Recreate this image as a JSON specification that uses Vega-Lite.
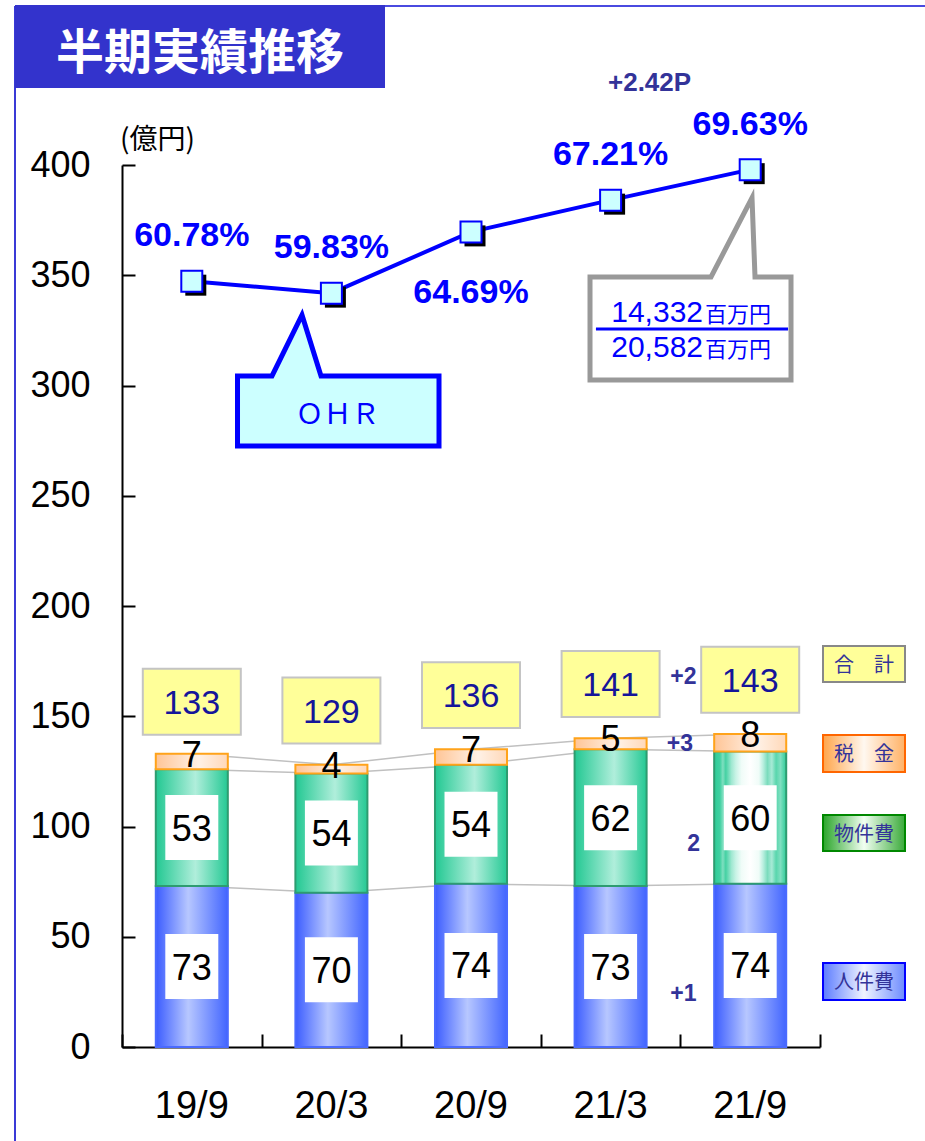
{
  "$schema": "https://vega.github.io/schema/vega-lite/v6.json",
  "width": 698,
  "height": 882,
  "autosize": {"type": "none"},
  "padding": {"left": 122, "top": 165, "right": 105, "bottom": 94},
  "background": "#ffffff",
  "config": {"view": {"stroke": null}, "font": "Liberation Sans"},
  "datasets": {
    "costs": [
      {"period": "19/9", "cat": "人件費", "value": 73},
      {"period": "19/9", "cat": "物件費", "value": 53},
      {"period": "19/9", "cat": "税金", "value": 7},
      {"period": "20/3", "cat": "人件費", "value": 70},
      {"period": "20/3", "cat": "物件費", "value": 54},
      {"period": "20/3", "cat": "税金", "value": 4},
      {"period": "20/9", "cat": "人件費", "value": 74},
      {"period": "20/9", "cat": "物件費", "value": 54},
      {"period": "20/9", "cat": "税金", "value": 7},
      {"period": "21/3", "cat": "人件費", "value": 73},
      {"period": "21/3", "cat": "物件費", "value": 62},
      {"period": "21/3", "cat": "税金", "value": 5},
      {"period": "21/9", "cat": "人件費", "value": 74},
      {"period": "21/9", "cat": "物件費", "value": 60},
      {"period": "21/9", "cat": "税金", "value": 8}
    ],
    "summary": [
      {"period": "19/9", "total": 133, "ohr": 0.6078},
      {"period": "20/3", "total": 129, "ohr": 0.5983},
      {"period": "20/9", "total": 136, "ohr": 0.6469},
      {"period": "21/3", "total": 141, "ohr": 0.6721},
      {"period": "21/9", "total": 143, "ohr": 0.6963}
    ],
    "note": [{"note": "annotation"}]
  },
  "resolve": {"scale": {"x": "independent", "y": "independent"}, "axis": {"x": "independent", "y": "independent"}},
  "layer": [
    {
      "data": {"name": "note"},
      "layer": [
        {"mark": {"type": "rule", "color": "#3a3ad6", "strokeWidth": 2},
         "encoding": {
           "x": {"datum": -1.2665, "type": "quantitative", "scale": {"domain": [-0.5, 4.5], "nice": false, "zero": false}, "axis": {"orient": "bottom", "values": [-0.5, 0.5, 1.5, 2.5, 3.5, 4.5], "labels": false, "domain": false, "grid": false, "ticks": true, "tickSize": -13, "tickColor": "#000000", "tickWidth": 2, "title": null}},
           "y": {"datum": 472.1, "type": "quantitative", "scale": {"domain": [0, 400], "nice": false, "zero": false}, "axis": null},
           "y2": {"datum": -42.6}}},
        {"mark": {"type": "rule", "color": "#4a4ae0", "strokeWidth": 2},
         "encoding": {
           "x": {"datum": -1.2665, "type": "quantitative", "scale": {"domain": [-0.5, 4.5], "nice": false, "zero": false}, "axis": {"orient": "bottom", "values": [-0.5, 0.5, 1.5, 2.5, 3.5, 4.5], "labels": false, "domain": false, "grid": false, "ticks": true, "tickSize": -13, "tickColor": "#000000", "tickWidth": 2, "title": null}},
           "x2": {"datum": 5.26},
           "y": {"datum": 472.1, "type": "quantitative", "scale": {"domain": [0, 400], "nice": false, "zero": false}, "axis": null}}},
        {"mark": {"type": "rect", "color": "#3333cc"},
         "encoding": {
           "x": {"datum": -1.2665, "type": "quantitative", "scale": {"domain": [-0.5, 4.5], "nice": false, "zero": false}, "axis": {"orient": "bottom", "values": [-0.5, 0.5, 1.5, 2.5, 3.5, 4.5], "labels": false, "domain": false, "grid": false, "ticks": true, "tickSize": -13, "tickColor": "#000000", "tickWidth": 2, "title": null}},
           "x2": {"datum": 1.384},
           "y": {"datum": 472.6, "type": "quantitative", "scale": {"domain": [0, 400], "nice": false, "zero": false}, "axis": null},
           "y2": {"datum": 434.9}}},
        {"mark": {"type": "text", "text": "半期実績推移", "font": "Noto Sans CJK JP", "fontSize": 48, "fontWeight": "bold", "color": "#ffffff", "align": "center", "baseline": "middle"},
         "encoding": {
           "x": {"datum": 0.0587, "type": "quantitative", "scale": {"domain": [-0.5, 4.5], "nice": false, "zero": false}, "axis": {"orient": "bottom", "values": [-0.5, 0.5, 1.5, 2.5, 3.5, 4.5], "labels": false, "domain": false, "grid": false, "ticks": true, "tickSize": -13, "tickColor": "#000000", "tickWidth": 2, "title": null}},
           "y": {"datum": 450.1, "type": "quantitative", "scale": {"domain": [0, 400], "nice": false, "zero": false}, "axis": null}}},
        {"mark": {"type": "point", "shape": "M-1,-0.0447L-0.6576,-0.0447L-0.3598,-0.6501L-0.1712,-0.0447L1,-0.0447L1,0.6501L-1,0.6501Z", "size": 40602, "filled": true, "color": "#ccffff", "stroke": "#0000ff", "strokeWidth": 5, "opacity": 1, "strokeJoin": "miter"},
         "encoding": {
           "x": {"datum": 1.0491, "type": "quantitative", "scale": {"domain": [-0.5, 4.5], "nice": false, "zero": false}, "axis": {"orient": "bottom", "values": [-0.5, 0.5, 1.5, 2.5, 3.5, 4.5], "labels": false, "domain": false, "grid": false, "ticks": true, "tickSize": -13, "tickColor": "#000000", "tickWidth": 2, "title": null}},
           "y": {"datum": 302.3, "type": "quantitative", "scale": {"domain": [0, 400], "nice": false, "zero": false}, "axis": null}}},
        {"mark": {"type": "point", "shape": "M-1,-0.1194L0.204,-0.1194L0.6119,-0.9055L0.6418,-0.1194L1,-0.1194L1,0.9055L-1,0.9055Z", "size": 40401, "filled": true, "color": "#ffffff", "stroke": "#999999", "strokeWidth": 5, "opacity": 1, "strokeJoin": "miter"},
         "encoding": {
           "x": {"datum": 3.5724, "type": "quantitative", "scale": {"domain": [-0.5, 4.5], "nice": false, "zero": false}, "axis": {"orient": "bottom", "values": [-0.5, 0.5, 1.5, 2.5, 3.5, 4.5], "labels": false, "domain": false, "grid": false, "ticks": true, "tickSize": -13, "tickColor": "#000000", "tickWidth": 2, "title": null}},
           "y": {"datum": 343.8, "type": "quantitative", "scale": {"domain": [0, 400], "nice": false, "zero": false}, "axis": null}}},
        {"mark": {"type": "rect", "fill": "#ffff99", "stroke": "#888888", "strokeWidth": 2},
         "encoding": {
           "x": {"datum": 4.5215, "type": "quantitative", "scale": {"domain": [-0.5, 4.5], "nice": false, "zero": false}, "axis": {"orient": "bottom", "values": [-0.5, 0.5, 1.5, 2.5, 3.5, 4.5], "labels": false, "domain": false, "grid": false, "ticks": true, "tickSize": -13, "tickColor": "#000000", "tickWidth": 2, "title": null}},
           "x2": {"datum": 5.1089},
           "y": {"datum": 181.9, "type": "quantitative", "scale": {"domain": [0, 400], "nice": false, "zero": false}, "axis": null},
           "y2": {"datum": 165.5}}},
        {"mark": {"type": "rect", "fill": {"gradient": "linear", "x1": 0, "y1": 0, "x2": 1, "y2": 0, "stops": [{"offset": 0, "color": "#ffa54a"}, {"offset": 0.5, "color": "#fff8f0"}, {"offset": 1, "color": "#ffb266"}]}, "stroke": "#ff6600", "strokeWidth": 2},
         "encoding": {
           "x": {"datum": 4.5215, "type": "quantitative", "scale": {"domain": [-0.5, 4.5], "nice": false, "zero": false}, "axis": {"orient": "bottom", "values": [-0.5, 0.5, 1.5, 2.5, 3.5, 4.5], "labels": false, "domain": false, "grid": false, "ticks": true, "tickSize": -13, "tickColor": "#000000", "tickWidth": 2, "title": null}},
           "x2": {"datum": 5.1089},
           "y": {"datum": 141.5, "type": "quantitative", "scale": {"domain": [0, 400], "nice": false, "zero": false}, "axis": null},
           "y2": {"datum": 124.7}}},
        {"mark": {"type": "rect", "fill": {"gradient": "linear", "x1": 0, "y1": 0, "x2": 1, "y2": 0, "stops": [{"offset": 0, "color": "#2aa52a"}, {"offset": 0.5, "color": "#f2fff2"}, {"offset": 1, "color": "#3aaa3a"}]}, "stroke": "#008800", "strokeWidth": 2},
         "encoding": {
           "x": {"datum": 4.5215, "type": "quantitative", "scale": {"domain": [-0.5, 4.5], "nice": false, "zero": false}, "axis": {"orient": "bottom", "values": [-0.5, 0.5, 1.5, 2.5, 3.5, 4.5], "labels": false, "domain": false, "grid": false, "ticks": true, "tickSize": -13, "tickColor": "#000000", "tickWidth": 2, "title": null}},
           "x2": {"datum": 5.1089},
           "y": {"datum": 105.2, "type": "quantitative", "scale": {"domain": [0, 400], "nice": false, "zero": false}, "axis": null},
           "y2": {"datum": 88.9}}},
        {"mark": {"type": "rect", "fill": {"gradient": "linear", "x1": 0, "y1": 0, "x2": 1, "y2": 0, "stops": [{"offset": 0, "color": "#5c7cff"}, {"offset": 0.5, "color": "#f0f4ff"}, {"offset": 1, "color": "#6d8bff"}]}, "stroke": "#0000ff", "strokeWidth": 2},
         "encoding": {
           "x": {"datum": 4.5215, "type": "quantitative", "scale": {"domain": [-0.5, 4.5], "nice": false, "zero": false}, "axis": {"orient": "bottom", "values": [-0.5, 0.5, 1.5, 2.5, 3.5, 4.5], "labels": false, "domain": false, "grid": false, "ticks": true, "tickSize": -13, "tickColor": "#000000", "tickWidth": 2, "title": null}},
           "x2": {"datum": 5.1089},
           "y": {"datum": 38.1, "type": "quantitative", "scale": {"domain": [0, 400], "nice": false, "zero": false}, "axis": null},
           "y2": {"datum": 21.3}}},
        {"mark": {"type": "text", "text": "合　計", "font": "Noto Sans CJK JP", "fontSize": 20, "color": "#333399", "align": "center", "baseline": "middle"},
         "encoding": {
           "x": {"datum": 4.815, "type": "quantitative", "scale": {"domain": [-0.5, 4.5], "nice": false, "zero": false}, "axis": {"orient": "bottom", "values": [-0.5, 0.5, 1.5, 2.5, 3.5, 4.5], "labels": false, "domain": false, "grid": false, "ticks": true, "tickSize": -13, "tickColor": "#000000", "tickWidth": 2, "title": null}},
           "y": {"datum": 173.0, "type": "quantitative", "scale": {"domain": [0, 400], "nice": false, "zero": false}, "axis": null}}},
        {"mark": {"type": "text", "text": "税　金", "font": "Noto Sans CJK JP", "fontSize": 20, "color": "#333399", "align": "center", "baseline": "middle"},
         "encoding": {
           "x": {"datum": 4.815, "type": "quantitative", "scale": {"domain": [-0.5, 4.5], "nice": false, "zero": false}, "axis": {"orient": "bottom", "values": [-0.5, 0.5, 1.5, 2.5, 3.5, 4.5], "labels": false, "domain": false, "grid": false, "ticks": true, "tickSize": -13, "tickColor": "#000000", "tickWidth": 2, "title": null}},
           "y": {"datum": 132.4, "type": "quantitative", "scale": {"domain": [0, 400], "nice": false, "zero": false}, "axis": null}}},
        {"mark": {"type": "text", "text": "物件費", "font": "Noto Sans CJK JP", "fontSize": 20, "color": "#333399", "align": "center", "baseline": "middle"},
         "encoding": {
           "x": {"datum": 4.815, "type": "quantitative", "scale": {"domain": [-0.5, 4.5], "nice": false, "zero": false}, "axis": {"orient": "bottom", "values": [-0.5, 0.5, 1.5, 2.5, 3.5, 4.5], "labels": false, "domain": false, "grid": false, "ticks": true, "tickSize": -13, "tickColor": "#000000", "tickWidth": 2, "title": null}},
           "y": {"datum": 96.3, "type": "quantitative", "scale": {"domain": [0, 400], "nice": false, "zero": false}, "axis": null}}},
        {"mark": {"type": "text", "text": "人件費", "font": "Noto Sans CJK JP", "fontSize": 20, "color": "#333399", "align": "center", "baseline": "middle"},
         "encoding": {
           "x": {"datum": 4.815, "type": "quantitative", "scale": {"domain": [-0.5, 4.5], "nice": false, "zero": false}, "axis": {"orient": "bottom", "values": [-0.5, 0.5, 1.5, 2.5, 3.5, 4.5], "labels": false, "domain": false, "grid": false, "ticks": true, "tickSize": -13, "tickColor": "#000000", "tickWidth": 2, "title": null}},
           "y": {"datum": 29.0, "type": "quantitative", "scale": {"domain": [0, 400], "nice": false, "zero": false}, "axis": null}}}
      ]
    },
    {
      "data": {"name": "costs"},
      "encoding": {
        "x": {"field": "period", "type": "nominal", "title": null, "scale": {"paddingInner": 0.484, "paddingOuter": 0.242}, "axis": {"orient": "bottom", "labelFont": "Liberation Sans", "labelFontSize": 38, "labelColor": "#000000", "labelAngle": 0, "labelPadding": 40, "labelBaseline": "top", "ticks": false, "domainColor": "#000000", "domainWidth": 2, "grid": false}}
      },
      "layer": [
        {"transform": [{"stack": "value", "groupby": ["period"], "sort": [{"field": "cat", "order": "ascending"}], "as": ["s0", "s1"]}],
         "mark": {"type": "line", "color": "#c0c0c0", "strokeWidth": 1.5},
         "encoding": {
           "y": {"field": "s1", "type": "quantitative", "title": "(億円)", "scale": {"domain": [0, 400], "nice": false}, "axis": {"orient": "left", "values": [0, 50, 100, 150, 200, 250, 300, 350, 400], "labelFont": "Liberation Sans", "labelFontSize": 36, "labelColor": "#000000", "labelPadding": 45, "tickSize": -13, "tickColor": "#000000", "tickWidth": 2, "domainColor": "#000000", "domainWidth": 2, "grid": false, "titleAngle": 0, "titleX": 35, "titleY": -25, "titleAlign": "center", "titleBaseline": "middle", "titleFont": "Noto Sans CJK JP", "titleFontSize": 28, "titleFontWeight": "normal", "titleColor": "#000000"}},
           "detail": {"field": "cat", "type": "nominal"}}},
        {"mark": {"type": "bar", "strokeWidth": 2},
         "encoding": {
           "y": {"field": "value", "type": "quantitative", "stack": "zero", "title": "(億円)", "scale": {"domain": [0, 400], "nice": false}, "axis": {"orient": "left", "values": [0, 50, 100, 150, 200, 250, 300, 350, 400], "labelFont": "Liberation Sans", "labelFontSize": 36, "labelColor": "#000000", "labelPadding": 45, "tickSize": -13, "tickColor": "#000000", "tickWidth": 2, "domainColor": "#000000", "domainWidth": 2, "grid": false, "titleAngle": 0, "titleX": 35, "titleY": -25, "titleAlign": "center", "titleBaseline": "middle", "titleFont": "Noto Sans CJK JP", "titleFontSize": 28, "titleFontWeight": "normal", "titleColor": "#000000"}},
           "order": {"field": "cat", "sort": "ascending"},
           "detail": {"field": "cat", "type": "nominal"},
           "fill": {
             "condition": [
               {"test": "datum.cat === '物件費' && datum.period === '21/9'", "value": {"gradient": "linear", "x1": 0, "y1": 0, "x2": 1, "y2": 0, "stops": [{"offset": 0, "color": "#2dcc98"}, {"offset": 0.08, "color": "#3fd0a0"}, {"offset": 0.12, "color": "#7fdfc0"}, {"offset": 0.16, "color": "#45d1a3"}, {"offset": 0.24, "color": "#9fe8d1"}, {"offset": 0.3, "color": "#c8f3e6"}, {"offset": 0.38, "color": "#f0fcf8"}, {"offset": 0.5, "color": "#ffffff"}, {"offset": 0.62, "color": "#f0fcf8"}, {"offset": 0.68, "color": "#b9efdf"}, {"offset": 0.74, "color": "#7bdcbd"}, {"offset": 0.8, "color": "#a7ead6"}, {"offset": 0.86, "color": "#59d6ad"}, {"offset": 0.92, "color": "#7fdfc0"}, {"offset": 1, "color": "#2dcc98"}]}},
               {"test": "datum.cat === '物件費'", "value": {"gradient": "linear", "x1": 0, "y1": 0, "x2": 1, "y2": 0, "stops": [{"offset": 0, "color": "#22c892"}, {"offset": 0.55, "color": "#b0eedb"}, {"offset": 1, "color": "#25c994"}]}},
               {"test": "datum.cat === '税金'", "value": {"gradient": "linear", "x1": 0, "y1": 0, "x2": 1, "y2": 0, "stops": [{"offset": 0, "color": "#ffc596"}, {"offset": 0.6, "color": "#fff1e6"}, {"offset": 1, "color": "#ffd8b8"}]}}
             ],
             "value": {"gradient": "linear", "x1": 0, "y1": 0, "x2": 1, "y2": 0, "stops": [{"offset": 0, "color": "#3b5cff"}, {"offset": 0.45, "color": "#b7c7ff"}, {"offset": 1, "color": "#4265ff"}]}
           },
           "stroke": {
             "condition": [
               {"test": "datum.cat === '物件費'", "value": "#2e9c70"},
               {"test": "datum.cat === '税金'", "value": "#ffa31a"}
             ],
             "value": "#4a6aff"
           }}},
        {"mark": {"type": "point", "shape": "M-0.815,-1H0.815V1H-0.815Z", "size": 4225, "filled": true, "color": "#ffffff", "strokeWidth": 0},
         "encoding": {
           "y": {"field": "value", "type": "quantitative", "stack": "zero", "bandPosition": 0.5, "title": "(億円)", "scale": {"domain": [0, 400], "nice": false}, "axis": {"orient": "left", "values": [0, 50, 100, 150, 200, 250, 300, 350, 400], "labelFont": "Liberation Sans", "labelFontSize": 36, "labelColor": "#000000", "labelPadding": 45, "tickSize": -13, "tickColor": "#000000", "tickWidth": 2, "domainColor": "#000000", "domainWidth": 2, "grid": false, "titleAngle": 0, "titleX": 35, "titleY": -25, "titleAlign": "center", "titleBaseline": "middle", "titleFont": "Noto Sans CJK JP", "titleFontSize": 28, "titleFontWeight": "normal", "titleColor": "#000000"}},
           "order": {"field": "cat", "sort": "ascending"},
           "detail": {"field": "cat", "type": "nominal"},
           "opacity": {"condition": {"test": "datum.cat === '税金'", "value": 0}, "value": 1}}},
        {"mark": {"type": "text", "font": "Liberation Sans", "fontSize": 36, "color": "#000000", "baseline": "middle", "dy": 2},
         "encoding": {
           "y": {"field": "value", "type": "quantitative", "stack": "zero", "bandPosition": 0.5, "title": "(億円)", "scale": {"domain": [0, 400], "nice": false}, "axis": {"orient": "left", "values": [0, 50, 100, 150, 200, 250, 300, 350, 400], "labelFont": "Liberation Sans", "labelFontSize": 36, "labelColor": "#000000", "labelPadding": 45, "tickSize": -13, "tickColor": "#000000", "tickWidth": 2, "domainColor": "#000000", "domainWidth": 2, "grid": false, "titleAngle": 0, "titleX": 35, "titleY": -25, "titleAlign": "center", "titleBaseline": "middle", "titleFont": "Noto Sans CJK JP", "titleFontSize": 28, "titleFontWeight": "normal", "titleColor": "#000000"}},
           "order": {"field": "cat", "sort": "ascending"},
           "detail": {"field": "cat", "type": "nominal"},
           "text": {"field": "value", "type": "quantitative"},
           "opacity": {"condition": {"test": "datum.cat === '税金'", "value": 0}, "value": 1}}},
        {"mark": {"type": "text", "font": "Liberation Sans", "fontSize": 36, "color": "#000000", "baseline": "middle", "dy": 2},
         "encoding": {
           "y": {"field": "value", "type": "quantitative", "stack": "zero", "title": "(億円)", "scale": {"domain": [0, 400], "nice": false}, "axis": {"orient": "left", "values": [0, 50, 100, 150, 200, 250, 300, 350, 400], "labelFont": "Liberation Sans", "labelFontSize": 36, "labelColor": "#000000", "labelPadding": 45, "tickSize": -13, "tickColor": "#000000", "tickWidth": 2, "domainColor": "#000000", "domainWidth": 2, "grid": false, "titleAngle": 0, "titleX": 35, "titleY": -25, "titleAlign": "center", "titleBaseline": "middle", "titleFont": "Noto Sans CJK JP", "titleFontSize": 28, "titleFontWeight": "normal", "titleColor": "#000000"}},
           "order": {"field": "cat", "sort": "ascending"},
           "detail": {"field": "cat", "type": "nominal"},
           "text": {"field": "value", "type": "quantitative"},
           "opacity": {"condition": {"test": "datum.cat === '税金'", "value": 1}, "value": 0}}},
        {"data": {"name": "summary"},
         "layer": [
           {"mark": {"type": "point", "shape": "M-1,-0.673H1V0.673H-1Z", "size": 9604, "filled": true, "color": "#ffff99", "stroke": "#c4c4c4", "strokeWidth": 2, "opacity": 1, "yOffset": -52},
            "encoding": {
              "y": {"field": "total", "type": "quantitative", "title": "(億円)", "scale": {"domain": [0, 400], "nice": false}, "axis": {"orient": "left", "values": [0, 50, 100, 150, 200, 250, 300, 350, 400], "labelFont": "Liberation Sans", "labelFontSize": 36, "labelColor": "#000000", "labelPadding": 45, "tickSize": -13, "tickColor": "#000000", "tickWidth": 2, "domainColor": "#000000", "domainWidth": 2, "grid": false, "titleAngle": 0, "titleX": 35, "titleY": -25, "titleAlign": "center", "titleBaseline": "middle", "titleFont": "Noto Sans CJK JP", "titleFontSize": 28, "titleFontWeight": "normal", "titleColor": "#000000"}}}},
           {"mark": {"type": "text", "font": "Liberation Sans", "fontSize": 34, "color": "#15159a", "baseline": "middle", "dy": 2, "yOffset": -52},
            "encoding": {
              "y": {"field": "total", "type": "quantitative", "title": "(億円)", "scale": {"domain": [0, 400], "nice": false}, "axis": {"orient": "left", "values": [0, 50, 100, 150, 200, 250, 300, 350, 400], "labelFont": "Liberation Sans", "labelFontSize": 36, "labelColor": "#000000", "labelPadding": 45, "tickSize": -13, "tickColor": "#000000", "tickWidth": 2, "domainColor": "#000000", "domainWidth": 2, "grid": false, "titleAngle": 0, "titleX": 35, "titleY": -25, "titleAlign": "center", "titleBaseline": "middle", "titleFont": "Noto Sans CJK JP", "titleFontSize": 28, "titleFontWeight": "normal", "titleColor": "#000000"}},
              "text": {"field": "total", "type": "quantitative"}}}
         ]}
      ]
    },
    {
      "data": {"name": "summary"},
      "encoding": {
        "x": {"field": "period", "type": "nominal", "title": null, "scale": {"paddingInner": 0.484, "paddingOuter": 0.242}, "axis": null},
        "y": {"field": "ohr", "type": "quantitative", "scale": {"domain": [0, 0.7], "nice": false, "zero": false}, "axis": null}
      },
      "layer": [
        {"mark": {"type": "line", "color": "#0000ff", "strokeWidth": 4}, "encoding": {}},
        {"mark": {"type": "point", "shape": "square", "size": 441, "filled": true, "color": "#000000", "opacity": 1, "xOffset": 4, "yOffset": 4}, "encoding": {}},
        {"mark": {"type": "point", "shape": "square", "size": 441, "filled": true, "color": "#ccffff", "stroke": "#0000ff", "strokeWidth": 2, "opacity": 1}, "encoding": {}},
        {"transform": [{"filter": "datum.period !== '20/9'"}],
         "mark": {"type": "text", "font": "Liberation Sans", "fontSize": 34, "fontWeight": "bold", "color": "#0000ff", "baseline": "middle", "dy": -45},
         "encoding": {"text": {"field": "ohr", "type": "quantitative", "format": ".2%"}}},
        {"transform": [{"filter": "datum.period === '20/9'"}],
         "mark": {"type": "text", "font": "Liberation Sans", "fontSize": 34, "fontWeight": "bold", "color": "#0000ff", "baseline": "middle", "dy": 61},
         "encoding": {"text": {"field": "ohr", "type": "quantitative", "format": ".2%"}}}
      ]
    },
    {
      "data": {"name": "note"},
      "layer": [
        {"mark": {"type": "text", "text": "ＯＨＲ", "font": "Noto Sans CJK JP", "fontSize": 28, "color": "#0000ff", "align": "center", "baseline": "middle"},
         "encoding": {
           "x": {"datum": 1.0437, "type": "quantitative", "scale": {"domain": [-0.5, 4.5], "nice": false, "zero": false}, "axis": null},
           "y": {"datum": 286.2, "type": "quantitative", "scale": {"domain": [0, 400], "nice": false, "zero": false}, "axis": null}}},
        {"mark": {"type": "text", "text": "14,332", "font": "Liberation Sans", "fontSize": 30, "color": "#0000ff", "align": "right", "baseline": "alphabetic"},
         "encoding": {
           "x": {"datum": 3.662, "type": "quantitative", "scale": {"domain": [-0.5, 4.5], "nice": false, "zero": false}, "axis": null},
           "y": {"datum": 328.8, "type": "quantitative", "scale": {"domain": [0, 400], "nice": false, "zero": false}, "axis": null}}},
        {"mark": {"type": "text", "text": "百万円", "font": "Noto Sans CJK JP", "fontSize": 22, "color": "#0000ff", "align": "left", "baseline": "alphabetic"},
         "encoding": {
           "x": {"datum": 3.676, "type": "quantitative", "scale": {"domain": [-0.5, 4.5], "nice": false, "zero": false}, "axis": null},
           "y": {"datum": 328.8, "type": "quantitative", "scale": {"domain": [0, 400], "nice": false, "zero": false}, "axis": null}}},
        {"mark": {"type": "text", "text": "20,582", "font": "Liberation Sans", "fontSize": 30, "color": "#0000ff", "align": "right", "baseline": "alphabetic"},
         "encoding": {
           "x": {"datum": 3.662, "type": "quantitative", "scale": {"domain": [-0.5, 4.5], "nice": false, "zero": false}, "axis": null},
           "y": {"datum": 312.9, "type": "quantitative", "scale": {"domain": [0, 400], "nice": false, "zero": false}, "axis": null}}},
        {"mark": {"type": "text", "text": "百万円", "font": "Noto Sans CJK JP", "fontSize": 22, "color": "#0000ff", "align": "left", "baseline": "alphabetic"},
         "encoding": {
           "x": {"datum": 3.676, "type": "quantitative", "scale": {"domain": [-0.5, 4.5], "nice": false, "zero": false}, "axis": null},
           "y": {"datum": 312.9, "type": "quantitative", "scale": {"domain": [0, 400], "nice": false, "zero": false}, "axis": null}}},
        {"mark": {"type": "rule", "color": "#0000ff", "strokeWidth": 3},
         "encoding": {
           "x": {"datum": 2.895, "type": "quantitative", "scale": {"domain": [-0.5, 4.5], "nice": false, "zero": false}, "axis": null},
           "x2": {"datum": 4.271},
           "y": {"datum": 325.6, "type": "quantitative", "scale": {"domain": [0, 400], "nice": false, "zero": false}, "axis": null}}},
        {"mark": {"type": "text", "text": "+2.42P", "font": "Liberation Sans", "fontSize": 26, "fontWeight": "bold", "color": "#333399", "align": "center", "baseline": "middle"},
         "encoding": {
           "x": {"datum": 3.279, "type": "quantitative", "scale": {"domain": [-0.5, 4.5], "nice": false, "zero": false}, "axis": null},
           "y": {"datum": 437.4, "type": "quantitative", "scale": {"domain": [0, 400], "nice": false, "zero": false}, "axis": null}}},
        {"mark": {"type": "text", "text": "+2", "font": "Liberation Sans", "fontSize": 23, "fontWeight": "bold", "color": "#333399", "align": "center", "baseline": "middle"},
         "encoding": {
           "x": {"datum": 3.522, "type": "quantitative", "scale": {"domain": [-0.5, 4.5], "nice": false, "zero": false}, "axis": null},
           "y": {"datum": 167.6, "type": "quantitative", "scale": {"domain": [0, 400], "nice": false, "zero": false}, "axis": null}}},
        {"mark": {"type": "text", "text": "+3", "font": "Liberation Sans", "fontSize": 23, "fontWeight": "bold", "color": "#333399", "align": "center", "baseline": "middle"},
         "encoding": {
           "x": {"datum": 3.497, "type": "quantitative", "scale": {"domain": [-0.5, 4.5], "nice": false, "zero": false}, "axis": null},
           "y": {"datum": 137.4, "type": "quantitative", "scale": {"domain": [0, 400], "nice": false, "zero": false}, "axis": null}}},
        {"mark": {"type": "text", "text": "2", "font": "Liberation Sans", "fontSize": 23, "fontWeight": "bold", "color": "#333399", "align": "center", "baseline": "middle"},
         "encoding": {
           "x": {"datum": 3.594, "type": "quantitative", "scale": {"domain": [-0.5, 4.5], "nice": false, "zero": false}, "axis": null},
           "y": {"datum": 92.1, "type": "quantitative", "scale": {"domain": [0, 400], "nice": false, "zero": false}, "axis": null}}},
        {"mark": {"type": "text", "text": "+1", "font": "Liberation Sans", "fontSize": 23, "fontWeight": "bold", "color": "#333399", "align": "center", "baseline": "middle"},
         "encoding": {
           "x": {"datum": 3.522, "type": "quantitative", "scale": {"domain": [-0.5, 4.5], "nice": false, "zero": false}, "axis": null},
           "y": {"datum": 24.0, "type": "quantitative", "scale": {"domain": [0, 400], "nice": false, "zero": false}, "axis": null}}}
      ]
    }
  ]
}
